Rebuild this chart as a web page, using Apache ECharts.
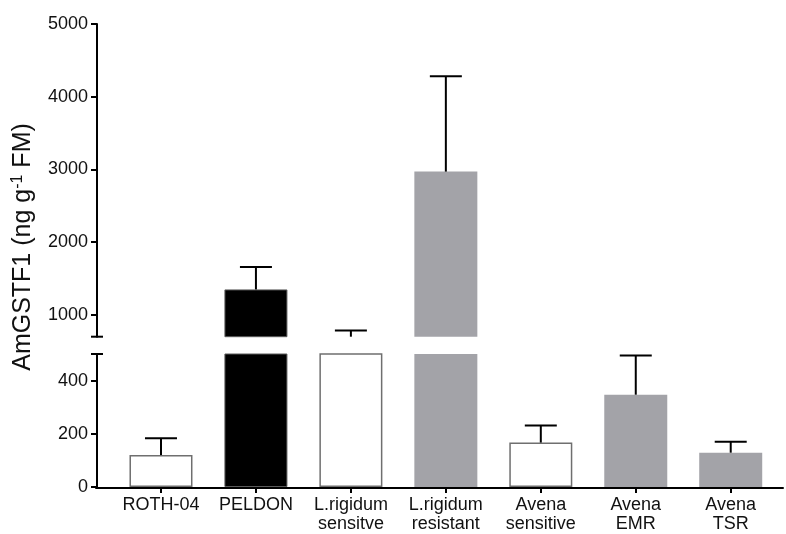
<!DOCTYPE html>
<html>
<head>
<meta charset="utf-8">
<script src="https://cdn.jsdelivr.net/npm/echarts@6/dist/echarts.min.js"></script>
<style>
  html, body { margin: 0; padding: 0; background: #fff; }
  #chart { width: 786px; height: 534px; }
</style>
</head>
<body>
<div id="chart"></div>
<script>
// Group labels along the x axis
const categories = ['ROTH-04', 'PELDON', 'L.rigidum\nsensitve', 'L.rigidum\nresistant',
                    'Avena\nsensitive', 'Avena\nEMR', 'Avena\nTSR'];
// Mean AmGSTF1 content (ng g-1 FM) and its upper error
const means = [120, 1350, 620, 2970, 167, 347, 129];
const errors = [63, 308, 165, 1310, 64, 147, 41];
// Fill kind for each group
const fillKinds = ['open', 'black', 'open', 'grey', 'open', 'grey', 'grey'];

// Broken value axis: lower segment and upper segment
const lowerRange = [0, 500];
const upperRange = [700, 5000];
const lowerTicks = [0, 200, 400];
const upperTicks = [1000, 2000, 3000, 4000, 5000];

const FONT = "'Liberation Sans', Arial, Helvetica, sans-serif";
const INK = '#111111';

const fillStyles = {
  open:  { color: '#ffffff', borderColor: '#6f6f6f', borderWidth: 1.5 },
  black: { color: '#000000', borderColor: '#5a5a5a', borderWidth: 1 },
  grey:  { color: '#a3a3a8', borderColor: '#a3a3a8', borderWidth: 0 }
};

function barData(range) {
  return means.map((m, i) => ({
    value: m > range[0] ? m : '-',
    itemStyle: fillStyles[fillKinds[i]]
  }));
}

// One-sided error bars, trimmed to the segment of the broken axis they fall in
function errorRenderer(range) {
  return function (params, api) {
    const i = api.value(0);
    const mean = api.value(1);
    const top = api.value(2);
    const lo = Math.max(mean, range[0]);
    const hi = Math.min(top, range[1]);
    if (hi <= lo) return null;
    const p0 = api.coord([i, lo]);
    const p1 = api.coord([i, hi]);
    const lineStyle = { stroke: '#000', lineWidth: 2 };
    const children = [{
      type: 'line',
      shape: { x1: p0[0], y1: p0[1], x2: p1[0], y2: p1[1] },
      style: lineStyle
    }];
    if (top <= range[1]) {
      children.push({
        type: 'line',
        shape: { x1: p1[0] - 16, y1: p1[1], x2: p1[0] + 16, y2: p1[1] },
        style: lineStyle
      });
    }
    return { type: 'group', children: children };
  };
}

const errorData = means.map((m, i) => [i, m, m + errors[i]]);

const GRID_LEFT = 113.5;
const GRID_RIGHT = 7.8;
const AXIS_X = 97;

function valueAxis(gridIndex, range, ticks, capAtStart) {
  return {
    type: 'value',
    gridIndex: gridIndex,
    min: range[0],
    max: range[1],
    offset: GRID_LEFT - AXIS_X,
    splitLine: { show: false },
    axisLine: {
      show: true,
      lineStyle: { color: '#000', width: 2 },
      symbol: capAtStart ? ['rect', 'none'] : ['none', 'rect'],
      symbolSize: [12, 2]
    },
    axisTick: { show: true, length: 6, lineStyle: { color: '#000', width: 2 }, customValues: ticks },
    axisLabel: {
      color: INK, fontSize: 18, fontFamily: FONT, margin: 9, customValues: ticks,
      formatter: v => String(v)
    }
  };
}

const chart = echarts.init(document.getElementById('chart'), null, { renderer: 'canvas' });

chart.setOption({
  animation: false,
  backgroundColor: '#ffffff',
  grid: [
    { left: GRID_LEFT, right: GRID_RIGHT, top: 24, height: 312.7 },
    { left: GRID_LEFT, right: GRID_RIGHT, top: 354, height: 133.7 },
    { left: AXIS_X - 1, right: 3, top: 354, height: 133.7 }
  ],
  xAxis: [
    { type: 'category', gridIndex: 0, data: categories, show: false },
    {
      type: 'category', gridIndex: 1, data: categories,
      axisLine: { show: false },
      axisTick: { show: true, alignWithLabel: true, length: 6, lineStyle: { color: '#000', width: 2 } },
      axisLabel: { color: INK, fontSize: 18, fontFamily: FONT, lineHeight: 19, margin: 9, interval: 0 }
    },
    {
      type: 'value', gridIndex: 2, min: 0, max: 1, position: 'bottom',
      axisLine: { show: true, onZero: false, lineStyle: { color: '#000', width: 2 } },
      axisTick: { show: false }, axisLabel: { show: false }, splitLine: { show: false }
    }
  ],
  yAxis: [
    valueAxis(0, upperRange, upperTicks, true),
    valueAxis(1, lowerRange, lowerTicks, false),
    { type: 'value', gridIndex: 2, show: false }
  ],
  series: [
    {
      type: 'bar', xAxisIndex: 0, yAxisIndex: 0, barWidth: 63, clip: true,
      data: barData(upperRange), z: 2
    },
    {
      type: 'bar', xAxisIndex: 1, yAxisIndex: 1, barWidth: 63, clip: true,
      data: barData(lowerRange), z: 2
    },
    {
      type: 'custom', xAxisIndex: 0, yAxisIndex: 0, z: 3,
      renderItem: errorRenderer(upperRange), data: errorData,
      encode: { x: 0, y: [1, 2] }
    },
    {
      type: 'custom', xAxisIndex: 1, yAxisIndex: 1, z: 3,
      renderItem: errorRenderer(lowerRange), data: errorData,
      encode: { x: 0, y: [1, 2] }
    }
  ],
  graphic: [{
    type: 'text',
    x: 23, y: 247,
    rotation: Math.PI / 2,
    style: {
      text: 'AmGSTF1 (ng g{sup|-1} FM)',
      textAlign: 'center',
      textVerticalAlign: 'middle',
      fill: INK,
      font: '25px ' + FONT,
      rich: {
        sup: { fontSize: 16, fontFamily: FONT, fill: INK, verticalAlign: 'top', lineHeight: 26 }
      }
    }
  }]
});
</script>
</body>
</html>
